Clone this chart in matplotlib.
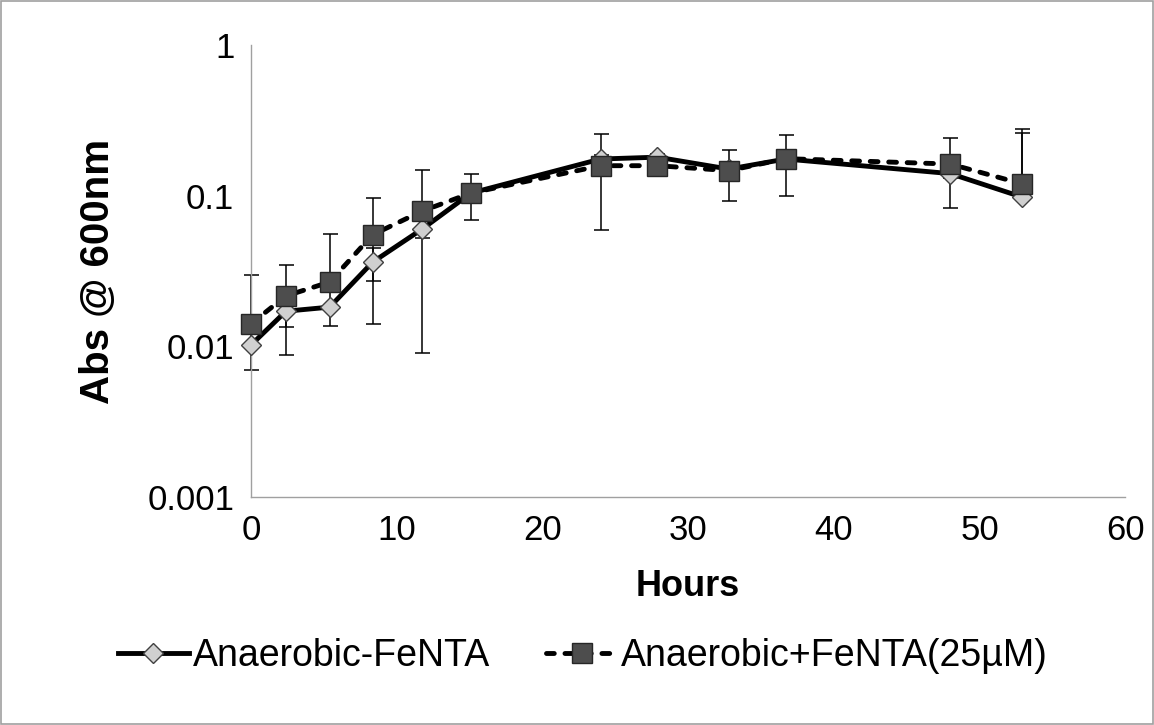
import matplotlib
matplotlib.use("Agg")
import matplotlib.pyplot as plt
import numpy as np

plt.rcParams['font.family'] = ['Liberation Sans', 'DejaVu Sans']

# Data
hours = [0, 2.4, 5.4, 8.35, 11.75, 15.1, 24, 27.9, 32.8, 36.7, 48, 52.9]

abs_minus_fe = [0.0102, 0.0171, 0.0182, 0.0362, 0.060, 0.104,
                0.175, 0.180, 0.150, 0.175, 0.140, 0.098]
err_minus_fe = [0.0032, 0.0037, 0.0046, 0.009, 0.008, 0.010,
                0.010, 0.010, 0.010, 0.010, 0.010, 0.180]

abs_plus_fe = [0.0141, 0.0216, 0.0267, 0.055, 0.079, 0.104,
               0.158, 0.158, 0.1465, 0.176, 0.162, 0.120]
err_plus_fe = [0.0155, 0.0129, 0.029, 0.041, 0.070, 0.035,
               0.099, 0.010, 0.055, 0.076, 0.079, 0.141]

labels = ['Anaerobic-FeNTA', 'Anaerobic+FeNTA(25\u00b5M)']
y_ticks = [0.001, 0.01, 0.1, 1]
y_tick_labels = ['0.001', '0.01', '0.1', '1']
x_ticks = [0, 10, 20, 30, 40, 50, 60]


def log_err(vals, errs):
    # negative lower bounds can't show on a log axis, Excel just drops them
    v = np.array(vals)
    e = np.array(errs)
    lower = np.where(e < v, e, 0)
    return [lower, e]


fig = plt.figure(figsize=(11.54, 7.25), dpi=100)
ax = fig.add_axes([0.2175, 0.3145, 0.7575, 0.6235])

for vals, errs in [(abs_minus_fe, err_minus_fe), (abs_plus_fe, err_plus_fe)]:
    eb = ax.errorbar(hours, vals, yerr=log_err(vals, errs), fmt='none',
                     ecolor='black', elinewidth=1.1, capsize=5.4,
                     capthick=1.1, zorder=2)
    for art in eb.lines[1] + eb.lines[2]:
        art.set_clip_on(False)

l1, = ax.plot(hours, abs_minus_fe, color='black', lw=3.5, marker='D', ms=10,
              mfc='#d0d0d0', mec='#404040', mew=1.0, label=labels[0], zorder=3)
l2, = ax.plot(hours, abs_plus_fe, color='black', lw=3.5, ls=(0, (1.6, 2.2)),
              dash_capstyle='round', marker='s', ms=14, mfc='#4d4d4d',
              mec='#262626', mew=1.0, label=labels[1], zorder=4)
l1.set_clip_on(False)
l2.set_clip_on(False)

ax.set_yscale('log')
ax.set_ylim(0.001, 1)
ax.set_xlim(0, 60)
ax.set_yticks(y_ticks)
ax.set_yticklabels(y_tick_labels)
ax.set_xticks(x_ticks)
ax.minorticks_off()
ax.tick_params(length=0, labelsize=25, pad=12)

for side in ['top', 'right']:
    ax.spines[side].set_visible(False)
for side in ['left', 'bottom']:
    ax.spines[side].set_color('#a0a0a0')
    ax.spines[side].set_linewidth(1.0)

ax.set_xlabel('Hours', fontsize=26, fontweight='bold', labelpad=16)
ax.set_ylabel('Abs @ 600nm', fontsize=29, fontweight='bold', labelpad=22)

fig.legend(loc='center', bbox_to_anchor=(0.505, 0.095), ncol=2, frameon=False,
           fontsize=27, handlelength=1.9, handletextpad=0.1, columnspacing=1.5)

# thin grey frame round the whole chart area
fig.patches.append(plt.Rectangle((0.001, 0.001), 0.998, 0.998,
                                 transform=fig.transFigure, fill=False,
                                 edgecolor='#a0a0a0', lw=1.2))

fig.savefig('out.png', dpi=100)
